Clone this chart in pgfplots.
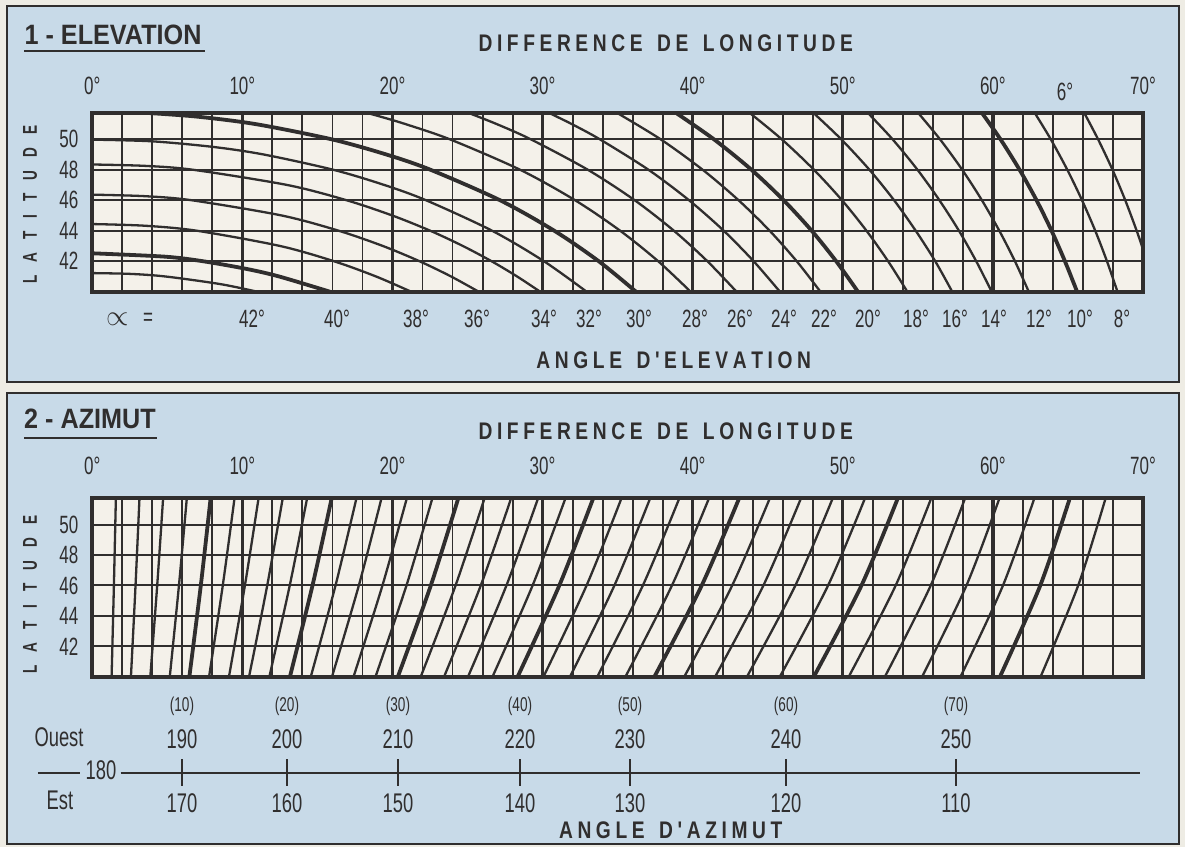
\documentclass[border=0pt]{standalone}
\usepackage{fontspec}
\setmainfont{Liberation Sans}[FakeStretch=0.68]
\newfontfamily\hfont{Liberation Sans}[FakeStretch=0.8]
\newfontfamily\tfont{Liberation Sans}[FakeStretch=0.9]
\usepackage{pgfplots}
\pgfplotsset{compat=1.18}
\definecolor{panel}{RGB}{200,218,232}
\definecolor{plotbg}{RGB}{244,241,234}
\definecolor{ink}{RGB}{48,46,46}
\definecolor{page}{RGB}{238,236,228}
\newdimen\lsk
\def\ls#1#2{\lsk=#1\relax\lsA#2\relax}
\def\lsA#1{\ifx#1\relax\else#1\kern\lsk\expandafter\lsA\fi}
\pgfplotsset{
  nomo/.style={scale only axis, width=525.35pt, xmin=0, xmax=70, ymin=40, ymax=51.75,
   axis background/.style={fill=plotbg},
   axis line style={draw=ink,line width=1.9pt},
   xtick={0,10,...,70}, xticklabels={0°,10°,20°,30°,40°,50°,60°,70°},
   xticklabel pos=upper, minor xtick={2,4,...,68},
   ytick={42,44,...,50}, yticklabels={42,44,46,48,50}, minor ytick={42,44,...,50},
   xmajorgrids, xminorgrids, yminorgrids, ymajorgrids=false,
   major grid style={draw=ink,line width=1.7pt},
   minor grid style={draw=ink,line width=0.95pt},
   major tick length=0pt, minor tick length=0pt, tick style={draw=none},
   ticklabel style={font=\fontsize{12.5}{14}\selectfont, text=ink},
   yticklabel style={anchor=east, xshift=-3.5pt},
   cycle list={{draw=ink,solid}},
   every axis plot/.append style={draw=ink, line width=1.15pt, smooth, no marks},
  },
  thk/.style={draw=ink,line width=1.9pt},
}
\begin{document}
\begin{tikzpicture}
\begin{scope}[x=0.5pt,y=-0.5pt,yshift=423.5pt]
 \path[use as bounding box,fill=page] (0,0) rectangle (1185,847);
 \filldraw[fill=panel,draw=ink,line width=1.2pt] (7,6) rectangle (1179,382);
 \filldraw[fill=panel,draw=ink,line width=1.2pt] (7,393) rectangle (1179,844);
 % titles
 \node[text=ink,font=\tfont\bfseries\fontsize{14}{16}\selectfont] at (113,35) {1 - ELEVATION};
 \draw[ink,line width=1pt] (24,51)--(205,51);
 \node[text=ink,font=\tfont\bfseries\fontsize{14}{16}\selectfont] at (90,419) {2 - AZIMUT};
 \draw[ink,line width=1pt] (24,438)--(157,438);
 \node[text=ink,font=\hfont\bfseries\fontsize{12}{14}\selectfont] at (668,43) {\ls{2.3pt}{DIFFERENCE~DE~LONGITUDE}};
 \node[text=ink,font=\hfont\bfseries\fontsize{12}{14}\selectfont] at (668,431) {\ls{2.3pt}{DIFFERENCE~DE~LONGITUDE}};
 \node[text=ink,rotate=90,font=\bfseries\fontsize{10}{12}\selectfont] at (30,198) {\ls{6.5pt}{LATITUDE}};
 \node[text=ink,rotate=90,font=\bfseries\fontsize{10}{12}\selectfont] at (30,588) {\ls{6.5pt}{LATITUDE}};
 \node[text=ink,font=\hfont\bfseries\fontsize{12}{14}\selectfont] at (676,360) {\ls{2.3pt}{ANGLE~D'ELEVATION}};
 \node[text=ink,font=\hfont\bfseries\fontsize{12}{14}\selectfont] at (673,830) {\ls{2.3pt}{ANGLE~D'AZIMUT}};
 % elevation labels
 \begin{scope}[every node/.style={text=ink,font=\fontsize{12.5}{14}\selectfont}]
 \node at (118,319) {\fontsize{15}{16}\selectfont$\propto$};
 \node at (148,319) {=};
 \node at (252,319) {42°}; \node at (337,319) {40°}; \node at (416,319) {38°};
 \node at (477,319) {36°}; \node at (544,319) {34°}; \node at (589,319) {32°};
 \node at (639,319) {30°}; \node at (695,319) {28°}; \node at (740,319) {26°};
 \node at (784,319) {24°}; \node at (824,319) {22°}; \node at (868,319) {20°};
 \node at (916,319) {18°}; \node at (955,319) {16°}; \node at (994,319) {14°};
 \node at (1039,319) {12°}; \node at (1080,319) {10°}; \node at (1122,319) {8°};
 \node at (1065,92) {6°};
 \end{scope}
 % azimuth scale text
 \begin{scope}[every node/.style={text=ink,font=\fontsize{13.5}{15}\selectfont}]
 \node at (59,737) {Ouest}; \node at (60,800) {Est};
 \node at (101,770) {180};
 \foreach \x/\w/\e/\p in {182/190/170/10, 287/200/160/20, 398/210/150/30, 520/220/140/40, 630/230/130/50, 786/240/120/60, 956/250/110/70}{
   \node at (\x,739) {\w};
   \node at (\x,803) {\e};
   \node[font=\fontsize{10}{11}\selectfont] at (\x,706) {(\p)};
 }
 \end{scope}
\end{scope}

\begin{axis}[nomo, height=89.5pt, at={(46.15pt,277.65pt)}, anchor=south west,
  xticklabel style={anchor=center, yshift=13.3pt}]
\addplot coordinates {(0,41.22) (2.5,41.17) (4.86,41) (8.52,40.5) (10.98,40)};
\addplot[thk] coordinates {(0,42.52) (4.83,42.3) (7.37,42) (10.25,41.5) (12.44,41) (15.83,40)};
\addplot coordinates {(0,44.44) (3.5,44.33) (6.98,44) (12.51,43) (16.10,42) (18.90,41) (21.24,40)};
\addplot coordinates {(0,46.37) (3.5,46.27) (6.64,46) (12.63,45) (16.42,44) (19.36,43) (21.80,42) (23.90,41) (25.74,40)};
\addplot coordinates {(0,48.35) (3.5,48.26) (6.74,48) (13.01,47) (16.95,46) (19.99,45) (22.52,44) (24.69,43) (26.60,42) (28.30,41) (29.84,40)};
\addplot coordinates {(0,49.98) (4,49.87) (8.08,49.5) (11.45,49) (16.07,48) (19.47,47) (22.24,46) (26.64,44) (30.09,42) (32.93,40)};
\addplot[thk] coordinates {(3.40,51.75) (6.89,51.5) (10.89,51) (15.96,50) (19.61,49) (22.54,48) (27.17,46) (30.78,44) (33.74,42) (36.22,40)};
\addplot coordinates {(18.24,51.75) (19.17,51.5) (20.87,51) (23.83,50) (28.51,48) (32.17,46) (35.17,44) (37.70,42) (39.86,40)};
\addplot coordinates {(25.03,51.75) (26.95,51) (29.22,50) (33.02,48) (36.14,46) (38.75,44) (40.98,42) (42.92,40)};
\addplot coordinates {(30.40,51.75) (31.95,51) (33.82,50) (37.06,48) (39.76,46) (42.07,44) (44.06,42) (45.81,40)};
\addplot coordinates {(34.94,51.75) (37.87,50) (40.67,48) (43.06,46) (45.13,44) (46.93,42) (48.51,40)};
\addplot[thk] coordinates {(38.87,51.75) (41.42,50) (43.92,48) (46.06,46) (47.93,44) (49.56,42) (51.01,40)};
\addplot coordinates {(43.78,51.75) (45.94,50) (48.08,48) (49.95,46) (51.58,44) (53.02,42) (54.30,40)};
\addplot coordinates {(48.03,51.75) (49.90,50) (51.78,48) (53.42,46) (54.86,44) (56.16,42) (57.29,40)};
\addplot coordinates {(51.66,51.75) (53.32,50) (54.98,48) (56.44,46) (57.74,44) (58.89,42) (59.92,40)};
\addplot coordinates {(55.01,51.75) (56.48,50) (57.96,48) (59.27,46) (60.43,44) (61.47,42) (62.39,40)};
\addplot[thk] coordinates {(59.26,51.75) (60.51,50) (61.78,48) (62.91,46) (63.91,44) (64.80,42) (65.61,40)};
\addplot coordinates {(62.78,51.75) (63.86,50) (64.96,48) (65.94,46) (66.82,44) (67.60,42) (68.30,40)};
\addplot coordinates {(66.08,51.75) (67.01,50) (67.97,48) (68.82,46) (69.58,44) (70,42.79)};
\end{axis}

\begin{axis}[nomo, height=89.35pt, at={(46.15pt,85.15pt)}, anchor=south west, clip=false,
  xticklabel style={anchor=center, yshift=16pt}]
\addplot coordinates {(1.286,40) (1.439,46) (1.571,51.75)};
\addplot coordinates {(2.574,40) (2.880,46) (3.143,51.75)};
\addplot coordinates {(3.865,40) (4.324,46) (4.718,51.75)};
\addplot coordinates {(5.162,40) (5.773,46) (6.298,51.75)};
\addplot[thk] coordinates {(6.467,40) (7.229,46) (7.884,51.75)};
\addplot coordinates {(7.780,40) (8.693,46) (9.477,51.75)};
\addplot coordinates {(9.105,40) (10.168,46) (11.079,51.75)};
\addplot coordinates {(10.443,40) (11.654,46) (12.690,51.75)};
\addplot coordinates {(11.797,40) (13.155,46) (14.314,51.75)};
\addplot[thk] coordinates {(13.167,40) (14.671,46) (15.951,51.75)};
\addplot coordinates {(14.557,40) (16.204,46) (17.602,51.75)};
\addplot coordinates {(15.970,40) (17.758,46) (19.271,51.75)};
\addplot coordinates {(17.405,40) (19.331,46) (20.958,51.75)};
\addplot coordinates {(18.869,40) (20.931,46) (22.662,51.75)};
\addplot[thk] coordinates {(20.359,40) (22.552,46) (24.388,51.75)};
\addplot coordinates {(21.882,40) (24.202,46) (26.137,51.75)};
\addplot coordinates {(23.438,40) (25.882,46) (27.909,51.75)};
\addplot coordinates {(25.033,40) (27.591,46) (29.705,51.75)};
\addplot coordinates {(26.664,40) (29.334,46) (31.529,51.75)};
\addplot[thk] coordinates {(28.339,40) (31.114,46) (33.380,51.75)};
\addplot coordinates {(30.060,40) (32.930,46) (35.262,51.75)};
\addplot coordinates {(31.828,40) (34.784,46) (37.174,51.75)};
\addplot coordinates {(33.646,40) (36.680,46) (39.117,51.75)};
\addplot coordinates {(35.520,40) (38.618,46) (41.093,51.75)};
\addplot[thk] coordinates {(37.450,40) (40.602,46) (43.102,51.75)};
\addplot coordinates {(39.442,40) (42.632,46) (45.145,51.75)};
\addplot coordinates {(41.496,40) (44.711,46) (47.223,51.75)};
\addplot coordinates {(43.617,40) (46.840,46) (49.336,51.75)};
\addplot coordinates {(45.807,40) (49.020,46) (51.486,51.75)};
\addplot[thk] coordinates {(48.069,40) (51.245,46) (53.672,51.75)};
\addplot coordinates {(50.398,40) (53.524,46) (55.897,51.75)};
\addplot coordinates {(52.806,40) (55.858,46) (58.153,51.75)};
\addplot coordinates {(55.286,40) (58.240,46) (60.442,51.75)};
\addplot coordinates {(57.845,40) (60.672,46) (62.769,51.75)};
\addplot[thk] coordinates {(60.472,40) (63.157,46) (65.129,51.75)};
\addplot coordinates {(63.179,40) (65.683,46) (67.513,51.75)};
% azimuth scale
\addplot[draw=ink,line width=1pt] coordinates {(-3.62,33.7) (-0.82,33.7)};
\addplot[draw=ink,line width=1pt] coordinates {(1.88,33.7) (69.8,33.7)};
\addplot[draw=ink,line width=1.2pt] coordinates {(5.98,32.84) (5.98,34.56)};
\addplot[draw=ink,line width=1.2pt] coordinates {(12.97,32.84) (12.97,34.56)};
\addplot[draw=ink,line width=1.2pt] coordinates {(20.37,32.84) (20.37,34.56)};
\addplot[draw=ink,line width=1.2pt] coordinates {(28.49,32.84) (28.49,34.56)};
\addplot[draw=ink,line width=1.2pt] coordinates {(35.82,32.84) (35.82,34.56)};
\addplot[draw=ink,line width=1.2pt] coordinates {(46.21,32.84) (46.21,34.56)};
\addplot[draw=ink,line width=1.2pt] coordinates {(57.54,32.84) (57.54,34.56)};
\end{axis}
\end{tikzpicture}
\end{document}
